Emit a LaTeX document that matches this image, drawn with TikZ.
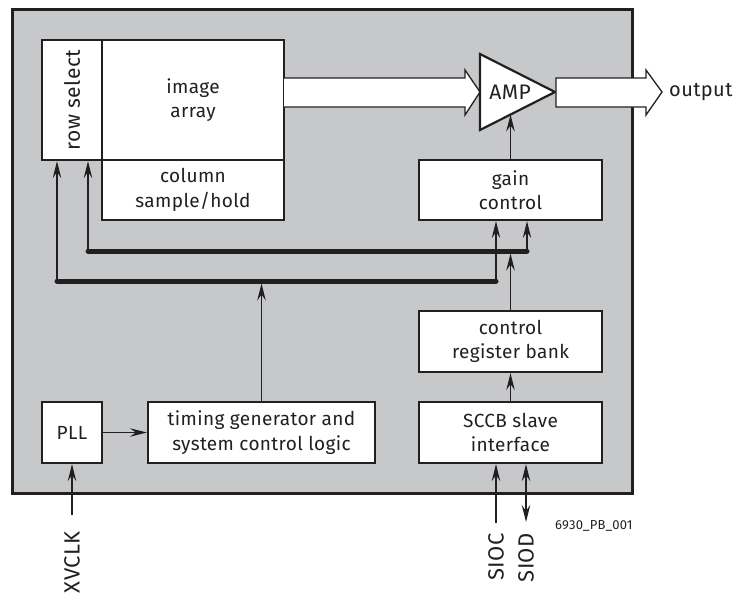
\documentclass[tikz,border=0pt]{standalone}
\usepackage{fontspec}
\setmainfont{Fira Sans}[LetterSpace=2]
\usetikzlibrary{arrows.meta}
\definecolor{chipgray}{RGB}{199,200,202}
\definecolor{ink}{RGB}{35,31,32}
\tikzset{
  blk/.style={draw=ink, fill=white, line width=2.2pt, inner sep=0pt, align=center, text=ink, font=\fontsize{19}{24.5}\selectfont},
  lbl/.style={text=ink, inner sep=0pt, font=\fontsize{19}{24.5}\selectfont},
  pin/.style={text=ink, inner sep=0pt, rotate=90, anchor=east, font=\fontsize{22}{24}\selectfont},
  sig/.style={draw=ink, line width=1.4pt, -{Stealth[length=17pt,width=8.5pt,inset=6pt]}},
  sigboth/.style={draw=ink, line width=1.4pt, {Stealth[length=17pt,width=8.5pt,inset=6pt]}-{Stealth[length=17pt,width=8.5pt,inset=6pt]}},
  bus/.style={draw=ink, line width=5pt, line cap=round},
  wide/.style={draw=ink, fill=white, line width=1.3pt, line join=miter}
}
\begin{document}
\begin{tikzpicture}[x=1pt,y=-1pt]
\useasboundingbox (0,0) rectangle (735,597);

\draw[ink, fill=chipgray, line width=3pt] (12,9) rectangle (632,493);

\node[blk, minimum width=60pt, minimum height=120pt] (rowsel) at (72,100) {};

\node[lbl, rotate=90, font=\fontsize{21}{24}\selectfont] (rowsellbl) at (rowsel) {row select};

\node[blk, minimum width=182pt, minimum height=120pt] (array) at (193,100) {image\\array};

\node[blk, minimum width=182pt, minimum height=60pt] (column) at (193,190) {column\\sample/hold};

\node[blk, minimum width=183pt, minimum height=60pt] (gain) at (510.5,190) {gain\\control};

\node[blk, minimum width=183pt, minimum height=61pt] (creg) at (510.5,341.5) {control\\register bank};

\node[blk, minimum width=183pt, minimum height=61pt] (sccb) at (510.5,432.5) {SCCB slave\\interface};

\node[blk, minimum width=60pt, minimum height=61pt] (pll) at (72,432.5) {PLL};

\node[blk, minimum width=227pt, minimum height=61pt] (timing) at (261.5,432.5) {timing generator and\\system control logic};

\path[wide] (284,78) -- (465,78) -- (465,70) -- (480,92) -- (465,115) -- (465,107) -- (284,107);

\coordinate (ampin) at (510.5,114.5);

\draw[ink, fill=white, line width=2.2pt, line join=miter] (480,54) -- (555,92) -- (480,130) -- cycle;

\node[lbl, font=\fontsize{21}{24}\selectfont] (amp) at (510,92) {AMP};

\path[wide] (556,78) -- (646,78) -- (646,70) -- (662,92) -- (646,115) -- (646,107) -- (556,107) -- cycle;

\node[lbl, anchor=west, font=\fontsize{20}{24}\selectfont] (out) at (669,92) {output};

\draw[sig] (gain.north) -- (ampin);

\coordinate (busAl) at (88,251);

\coordinate (busAr) at (527,251);

\coordinate (busBl) at (57,281);

\coordinate (busBr) at (496,281);

\draw[bus] (busAl) -- (busAr);

\draw[bus] (busBl) -- (busBr);

\draw[sig] (busAl) -- (busAl |- rowsel.south);

\draw[sig] (busBl) -- (busBl |- rowsel.south);

\draw[sig] (busAr) -- (busAr |- gain.south);

\draw[sig] (busBr) -- (busBr |- gain.south);

\draw[sig, shorten >=2.5pt] (creg.north) -- (creg.north |- busAl);

\draw[sig, shorten >=2.5pt] (timing.north) -- (timing.north |- busBl);

\draw[sig] (sccb.north) -- (creg.south);

\draw[sig] (pll.east) -- (timing.west);

\coordinate (xvclk) at (72,515);

\coordinate (sioc) at (496,523);

\coordinate (siod) at (526,522);

\draw[sig] (xvclk) -- (pll.south);

\draw[sig] (sioc) -- (sioc |- sccb.south);

\draw[sigboth] (siod) -- (siod |- sccb.south);

\node[pin] (xvclklbl) at (72,531) {XVCLK};

\node[pin] (sioclbl) at (496,533) {SIOC};

\node[pin] (siodlbl) at (526,533) {SIOD};

\node[text=ink, inner sep=0pt, anchor=west, font=\fontsize{13}{14}\selectfont] (tag) at (555,526) {6930\_PB\_001};

\end{tikzpicture}
\end{document}
